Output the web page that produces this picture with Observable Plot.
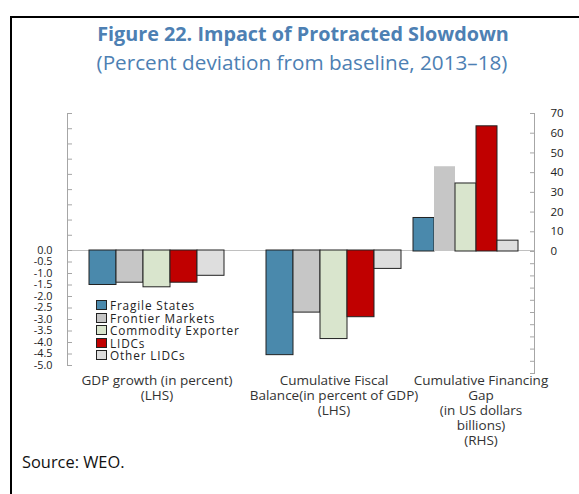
<!DOCTYPE html>
<html><head><meta charset="utf-8">
<script src="https://cdn.jsdelivr.net/npm/d3@7"></script>
<script src="https://cdn.jsdelivr.net/npm/@observablehq/plot@0.6"></script>
<style>
body{margin:0;background:#fff;font-family:"Open Sans",sans-serif;}
#wrap{position:relative;width:579px;height:494px;overflow:hidden;background:#fff;}
#border{position:absolute;left:10px;top:16px;width:600px;height:520px;border-top:2px solid #000;border-left:2px solid #000;}
#title{position:absolute;left:0;width:606px;top:22px;line-height:24px;text-align:center;font-weight:700;font-size:19.8px;color:#4d80b3;}
#subtitle{position:absolute;left:0;width:604px;top:50px;line-height:24px;text-align:center;font-size:20.7px;color:#4d80b3;}
#source{position:absolute;left:22px;top:451px;line-height:22px;font-size:16.4px;color:#111;}
#legend{position:absolute;left:96px;top:299px;font-size:11.8px;letter-spacing:0.85px;color:#222;}
#legend .row{height:12.5px;line-height:12.5px;display:flex;align-items:center;white-space:nowrap;}
#legend .sw{width:9px;height:8px;border:1px solid #222;margin-right:3px;}
</style></head>
<body>
<div id="wrap">
  <div id="border"></div>
  <div id="title">Figure 22. Impact of Protracted Slowdown</div>
  <div id="subtitle">(Percent deviation from baseline, 2013–18)</div>
  <div id="source">Source: WEO.</div>
</div>
<script>
const series = ["Fragile States", "Frontier Markets", "Commodity Exporter", "LIDCs", "Other LIDCs"];
const seriesColors = ["#4a89ac", "#c6c6c6", "#d9e5cd", "#c00000", "#dedede"];
const lhsCategories = ["GDP growth (in percent)\n(LHS)", "Cumulative Fiscal\nBalance(in percent of GDP)\n(LHS)"];
const rhsCategory = "Cumulative Financing\nGap\n(in US dollars\nbillions)\n(RHS)";
const gdpGrowth = [-1.5, -1.4, -1.6, -1.4, -1.1];
const fiscalBalance = [-4.55, -2.7, -3.85, -2.9, -0.8];
const financingGap = [17, 43, 34.5, 63.5, 5.5];
const lhsTickValues = [0, -0.5, -1, -1.5, -2, -2.5, -3, -3.5, -4, -4.5, -5];
const lhsMinorTicks = [1, 2, 3, 4, 5, 6, 7, 8, 9];
const rhsTickValues = [0, 10, 20, 30, 40, 50, 60, 70];
const rhsMinorTicks = [-1, -2, -3, -4, -5, -6, -7, -8, -9, -10];

const lhsValues = [gdpGrowth, fiscalBalance];
const lhsRows = [];
lhsCategories.forEach((c, i) => series.forEach((s, j) => lhsRows.push({cat: c, series: s, value: lhsValues[i][j]})));
const rhsRows = series.map((s, j) => ({series: s, value: financingGap[j]}));

const color = {domain: series, range: seriesColors};
const baseStyle = {background: "transparent", fontFamily: "Open Sans", color: "#222", overflow: "visible"};
const dims = {width: 579, height: 494, marginLeft: 67, marginRight: 45, marginTop: 113};
const axisStroke = "#a6a6a6";

// left axis, lower part (labelled)
const plotL = Plot.plot({
  ...dims, marginBottom: 129, style: baseStyle,
  y: {domain: [-5, 0], range: [365, 250], axis: null},
  marks: [
    Plot.frame({anchor: "left", stroke: axisStroke}),
    Plot.ruleY([0], {stroke: "#c0c0c0"}),
    Plot.axisY(lhsTickValues, {anchor: "left", label: null, tickSize: -5, tickPadding: 20, tickFormat: d => d.toFixed(1), fontSize: 10.8, fill: "#222", stroke: axisStroke})
  ]
});

// left axis, upper part (unlabelled ticks)
const plotLU = Plot.plot({
  ...dims, marginBottom: 129, style: baseStyle,
  y: {domain: [0, 9], range: [250, 113], axis: null},
  marks: [
    Plot.axisY(lhsMinorTicks, {anchor: "left", label: null, tickSize: -5, tickFormat: () => "", stroke: axisStroke})
  ]
});

// LHS bars
const plotA = Plot.plot({
  width: 579, height: 494, marginLeft: 68, marginRight: 157, marginTop: 113, marginBottom: 129,
  style: baseStyle,
  fx: {domain: lhsCategories, padding: 0, axis: null},
  x: {domain: series, paddingInner: 0, paddingOuter: 0.718, axis: null},
  y: {domain: [-5, 0], range: [365, 250], axis: null},
  color,
  marks: [
    Plot.barY(lhsRows, {fx: "cat", x: "series", y: "value", fill: "series", stroke: "#222", strokeWidth: 1}),
    Plot.text(lhsCategories, {fx: d => d, text: d => d, frameAnchor: "bottom", lineAnchor: "top", dy: 9, fontSize: 13.5, lineHeight: 1.11, fill: "#333"})
  ]
});

// RHS bars and axis
const plotR = Plot.plot({
  ...dims, marginBottom: 121, style: baseStyle,
  x: {domain: series, range: [411, 519], padding: 0, axis: null},
  y: {domain: [0, 70], range: [251, 113], axis: null},
  color,
  marks: [
    Plot.frame({anchor: "right", stroke: axisStroke}),
    Plot.barY(rhsRows, {x: "series", y: "value", fill: "series", stroke: d => d.series === "Frontier Markets" ? "none" : "#222", strokeWidth: 1}),
    Plot.axisY(rhsTickValues, {anchor: "right", label: null, tickSize: -5, tickPadding: 21, fontSize: 11.5, fill: "#222", stroke: axisStroke}),
    Plot.text([rhsCategory], {x: () => "LIDCs", text: d => d, frameAnchor: "bottom", lineAnchor: "top", dy: 1, dx: -6, fontSize: 13.5, lineHeight: 1.11, fill: "#333"})
  ]
});

// right axis, lower part (unlabelled ticks)
const plotRL = Plot.plot({
  ...dims, marginBottom: 121, style: baseStyle,
  y: {domain: [-10, 0], range: [373, 251], axis: null},
  marks: [
    Plot.axisY(rhsMinorTicks, {anchor: "right", label: null, tickSize: -5, tickFormat: () => "", stroke: axisStroke})
  ]
});

const wrap = document.getElementById("wrap");
[plotL, plotLU, plotA, plotR, plotRL].forEach(p => { p.style.position = "absolute"; p.style.left = "0"; p.style.top = "0"; p.style.maxWidth = "none"; wrap.appendChild(p); });

const legend = document.createElement("div");
legend.id = "legend";
series.forEach((s, i) => {
  const row = document.createElement("div");
  row.className = "row";
  const sw = document.createElement("span");
  sw.className = "sw";
  sw.style.background = seriesColors[i];
  row.appendChild(sw);
  row.appendChild(document.createTextNode(s));
  legend.appendChild(row);
});
wrap.appendChild(legend);
</script>
</body></html>
